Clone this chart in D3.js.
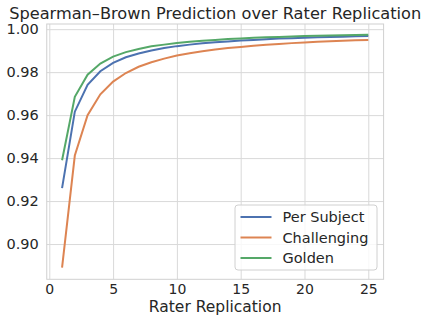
<!DOCTYPE html>
<html>
<head>
<meta charset="utf-8">
<script src="https://cdn.jsdelivr.net/npm/d3@7/dist/d3.min.js"></script>
<style>
  body { margin: 0; background: #fff; }
  text { font-family: "DejaVu Sans", sans-serif; fill: #262626; }
</style>
</head>
<body>
<svg id="canvas" width="422" height="316"></svg>
<script>
// rater replication k = 1..25
const raters = d3.range(1, 26)

// predicted reliability
const perSubject = [0.9260, 0.9616, 0.9741, 0.9804, 0.9843, 0.9869, 0.9887, 0.9901, 0.9912, 0.9921,
  0.9928, 0.9934, 0.9939, 0.9943, 0.9947, 0.9950, 0.9953, 0.9956, 0.9958, 0.9960,
  0.9962, 0.9964, 0.9965, 0.9967, 0.9968]
const challenging = [0.8890, 0.9412, 0.9600, 0.9697, 0.9756, 0.9796, 0.9825, 0.9846, 0.9863, 0.9877,
  0.9888, 0.9897, 0.9905, 0.9912, 0.9917, 0.9923, 0.9927, 0.9931, 0.9935, 0.9938,
  0.9941, 0.9944, 0.9946, 0.9948, 0.9950]
const golden = [0.9390, 0.9685, 0.9788, 0.9840, 0.9872, 0.9893, 0.9908, 0.9920, 0.9928, 0.9936,
  0.9941, 0.9946, 0.9950, 0.9954, 0.9957, 0.9960, 0.9962, 0.9964, 0.9966, 0.9968,
  0.9969, 0.9971, 0.9972, 0.9973, 0.9974]

const seriesNames = ["Per Subject", "Challenging", "Golden"]
const seriesColors = ["#4c72b0", "#dd8452", "#55a868"]
const xTicks = [0, 5, 10, 15, 20, 25]
const yTicks = [0.90, 0.92, 0.94, 0.96, 0.98, 1.00]

const series = [perSubject, challenging, golden].map((vals, i) => ({
  name: seriesNames[i],
  color: seriesColors[i],
  points: vals.map((v, j) => ({k: raters[j], v}))
}))

// plot area edges
const axLeft = 46.75, axRight = 383.6, axTop = 24, axBottom = 279.3
const svg = d3.select('#canvas')

const x = d3.scaleLinear().domain([-0.2, 26.2]).range([axLeft, axRight])
const y = d3.scaleLinear().domain([0.8836, 1.0024]).range([axBottom, axTop])

// grid
svg.append('g')
  .attr('transform', `translate(0,${axBottom})`)
  .call(d3.axisBottom(x).tickValues(xTicks).tickSize(-(axBottom - axTop)).tickFormat(d => d).tickPadding(5))
  .call(g => g.select('.domain').remove())
  .call(g => g.selectAll('line').attr('stroke', '#d9d9d9'))
  .call(g => g.selectAll('text').attr('font-size', 14).attr('fill', '#262626').attr('font-family', 'DejaVu Sans'))

svg.append('g')
  .attr('transform', `translate(${axLeft},0)`)
  .call(d3.axisLeft(y).tickValues(yTicks).tickSize(-(axRight - axLeft)).tickFormat(d3.format('.2f')).tickPadding(8))
  .call(g => g.select('.domain').remove())
  .call(g => g.selectAll('line').attr('stroke', '#d9d9d9'))
  .call(g => g.selectAll('text').attr('font-size', 14.5).attr('fill', '#262626').attr('font-family', 'DejaVu Sans'))

// frame
svg.append('rect')
  .attr('x', axLeft).attr('y', axTop)
  .attr('width', axRight - axLeft).attr('height', axBottom - axTop)
  .attr('fill', 'none').attr('stroke', '#d0d0d0').attr('stroke-width', 1)

const line = d3.line().x(d => x(d.k)).y(d => y(d.v))

svg.append('g').selectAll('path')
  .data(series)
  .enter()
  .append('path')
  .attr('d', d => line(d.points))
  .attr('fill', 'none')
  .attr('stroke', d => d.color)
  .attr('stroke-width', 2)

// title and label
svg.append('text')
  .attr('x', (axLeft + axRight) / 2).attr('y', 18.5)
  .attr('text-anchor', 'middle').attr('font-size', 16.2)
  .text('Spearman–Brown Prediction over Rater Replication')

svg.append('text')
  .attr('x', (axLeft + axRight) / 2).attr('y', 312.2)
  .attr('text-anchor', 'middle').attr('font-size', 15.5)
  .text('Rater Replication')

// legend
const legend = svg.append('g').attr('transform', 'translate(235,205)')
legend.append('rect')
  .attr('width', 142).attr('height', 65).attr('rx', 3)
  .attr('fill', 'white').attr('fill-opacity', 0.8)
  .attr('stroke', '#d0d0d0')

const rows = legend.selectAll('g.row')
  .data(series)
  .enter()
  .append('g')
  .attr('class', 'row')
  .attr('transform', (d, i) => `translate(0,${12 + i * 20.5})`)

rows.append('line')
  .attr('x1', 5.5).attr('x2', 36.5)
  .attr('stroke', d => d.color).attr('stroke-width', 2)

rows.append('text')
  .attr('x', 47.5).attr('dy', '0.36em')
  .attr('font-size', 14.5)
  .text(d => d.name)
</script>
</body>
</html>
